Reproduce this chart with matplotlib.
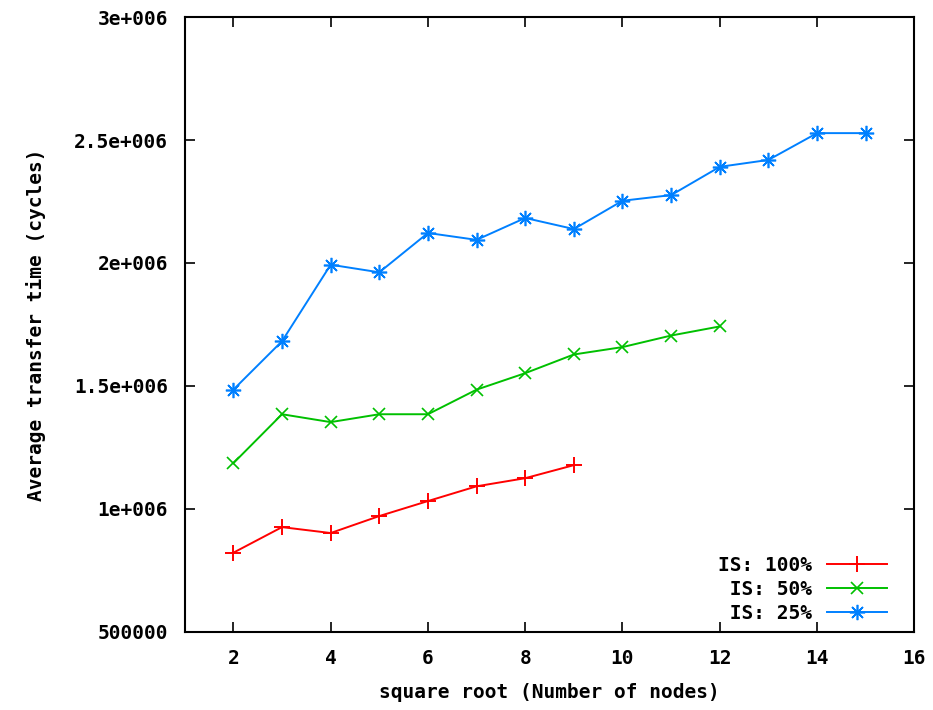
import matplotlib
matplotlib.use('Agg')
import matplotlib.pyplot as plt
import numpy as np

plt.rcParams['font.family'] = ['DejaVu Sans Mono']
plt.rcParams['font.weight'] = 'bold'
plt.rcParams['axes.labelweight'] = 'bold'

# values
x_100 = [2, 3, 4, 5, 6, 7, 8, 9]
y_100 = [822000, 926000, 902000, 971000, 1032000, 1092000, 1125000, 1178000]

x_50 = [2, 3, 4, 5, 6, 7, 8, 9, 10, 11, 12]
y_50 = [1186000, 1385000, 1353000, 1385000, 1385000, 1485000, 1552000,
        1628000, 1658000, 1705000, 1742000]

x_25 = [2, 3, 4, 5, 6, 7, 8, 9, 10, 11, 12, 13, 14, 15]
y_25 = [1485000, 1682000, 1993000, 1962000, 2122000, 2094000, 2183000,
        2138000, 2253000, 2276000, 2391000, 2419000, 2528000, 2528000]

x_ticks = [2, 4, 6, 8, 10, 12, 14, 16]
y_ticks = [500000, 1000000, 1500000, 2000000, 2500000, 3000000]
y_tick_labels = ['500000', '1e+006', '1.5e+006', '2e+006', '2.5e+006', '3e+006']

fig = plt.figure(figsize=(9.33, 7.10), dpi=100)
ax = fig.add_axes([0.198, 0.110, 0.782, 0.866])

lw = 1.4
ms = 11
fs = 14
ax.plot(x_100, y_100, color='#ff0000', lw=lw, marker='+', ms=ms, mew=1.4,
        label='IS: 100%')
ax.plot(x_50, y_50, color='#00c000', lw=lw, marker='x', ms=ms * 0.8, mew=1.2,
        label=' IS: 50%')
ax.plot(x_25, y_25, color='#0080ff', lw=lw, marker=(8, 2, 0), ms=ms, mew=1.2,
        label=' IS: 25%')

ax.set_xlim(1, 16)
ax.set_ylim(500000, 3000000)
ax.set_xticks(x_ticks)
ax.set_yticks(y_ticks)
ax.set_yticklabels(y_tick_labels)
ax.tick_params(direction='in', length=7, width=1.2, top=True, right=True,
               labelsize=fs, pad=12, colors='black')
for s in ax.spines.values():
    s.set_linewidth(1.5)

ax.set_xlabel('square root (Number of nodes)', fontsize=fs, labelpad=11)
ax.set_ylabel('Average transfer time (cycles)', fontsize=fs, labelpad=20)

ax.legend(loc='lower right', bbox_to_anchor=(0.963, 0.015), frameon=False,
          markerfirst=False, fontsize=fs, handlelength=3.1, handletextpad=0.8,
          labelspacing=0.25, borderpad=0, borderaxespad=0)

fig.savefig('out.png', dpi=100)
